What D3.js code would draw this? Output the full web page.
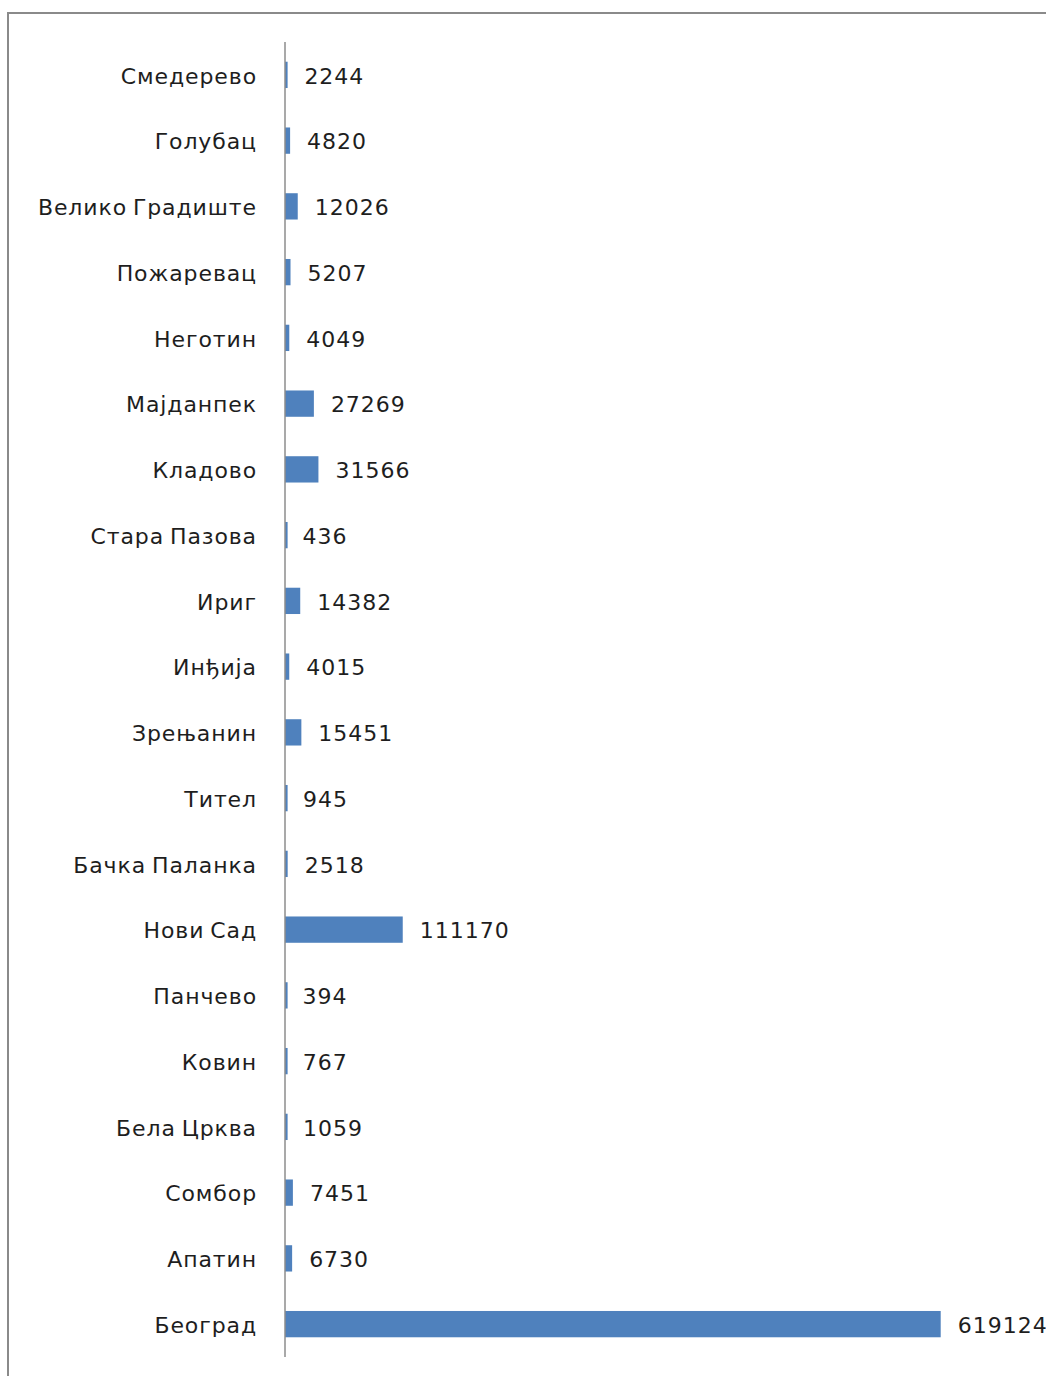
<!DOCTYPE html>
<html>
<head>
<meta charset="utf-8">
<script src="https://cdn.jsdelivr.net/npm/d3@7"></script>
<style>
  html, body { margin: 0; padding: 0; background: #fff; }
  svg { display: block; }
</style>
</head>
<body>
<svg id="chart" width="1046" height="1376"></svg>
<script>
// Municipalities, top to bottom
const places = [
  "Смедерево", "Голубац", "Велико Градиште", "Пожаревац", "Неготин",
  "Мајданпек", "Кладово", "Стара Пазова", "Ириг", "Инђија",
  "Зрењанин", "Тител", "Бачка Паланка", "Нови Сад", "Панчево",
  "Ковин", "Бела Црква", "Сомбор", "Апатин", "Београд"
];
const values = [
  2244, 4820, 12026, 5207, 4049,
  27269, 31566, 436, 14382, 4015,
  15451, 945, 2518, 111170, 394,
  767, 1059, 7451, 6730, 619124
];

const svg = d3.select("#chart");
const font = "'DejaVu Sans', Verdana, sans-serif";

// outer frame
svg.append("rect")
  .attr("x", 8).attr("y", 13)
  .attr("width", 1100).attr("height", 1400)
  .attr("fill", "none")
  .attr("stroke", "#8a8a8a")
  .attr("stroke-width", 2);

const x0 = 285;
const x = d3.scaleLinear().domain([0, 619124]).range([x0, 940.7]);
const y = d3.scaleBand().domain(places).range([42, 1357])
  .paddingInner(0.6).paddingOuter(0.3);

// bars (tiny values still show a thin sliver past the axis)
svg.append("g").selectAll("rect")
  .data(values)
  .join("rect")
  .attr("x", x0)
  .attr("y", (d, i) => y(places[i]))
  .attr("width", d => Math.max(x(d) - x0, 2.6))
  .attr("height", y.bandwidth())
  .attr("fill", "#4f81bd");

// category axis line
svg.append("line")
  .attr("x1", x0).attr("x2", x0)
  .attr("y1", 42).attr("y2", 1357)
  .attr("stroke", "#8c8c8c")
  .attr("stroke-width", 1.5);

// category labels
svg.append("g").selectAll("text")
  .data(places)
  .join("text")
  .attr("x", 257)
  .attr("y", d => y(d) + y.bandwidth() / 2)
  .attr("dy", "0.4em")
  .attr("text-anchor", "end")
  .attr("font-family", font)
  .attr("font-size", 22)
  .attr("letter-spacing", 0.9)
  .attr("word-spacing", -2)
  .attr("fill", "#1e1e1e")
  .text(d => d);

// value labels
svg.append("g").selectAll("text")
  .data(values)
  .join("text")
  .attr("x", d => x(d) + 17)
  .attr("y", (d, i) => y(places[i]) + y.bandwidth() / 2)
  .attr("dy", "0.4em")
  .attr("font-family", font)
  .attr("font-size", 22)
  .attr("letter-spacing", 1.0)
  .attr("fill", "#1e1e1e")
  .text(d => d);
</script>
</body>
</html>
